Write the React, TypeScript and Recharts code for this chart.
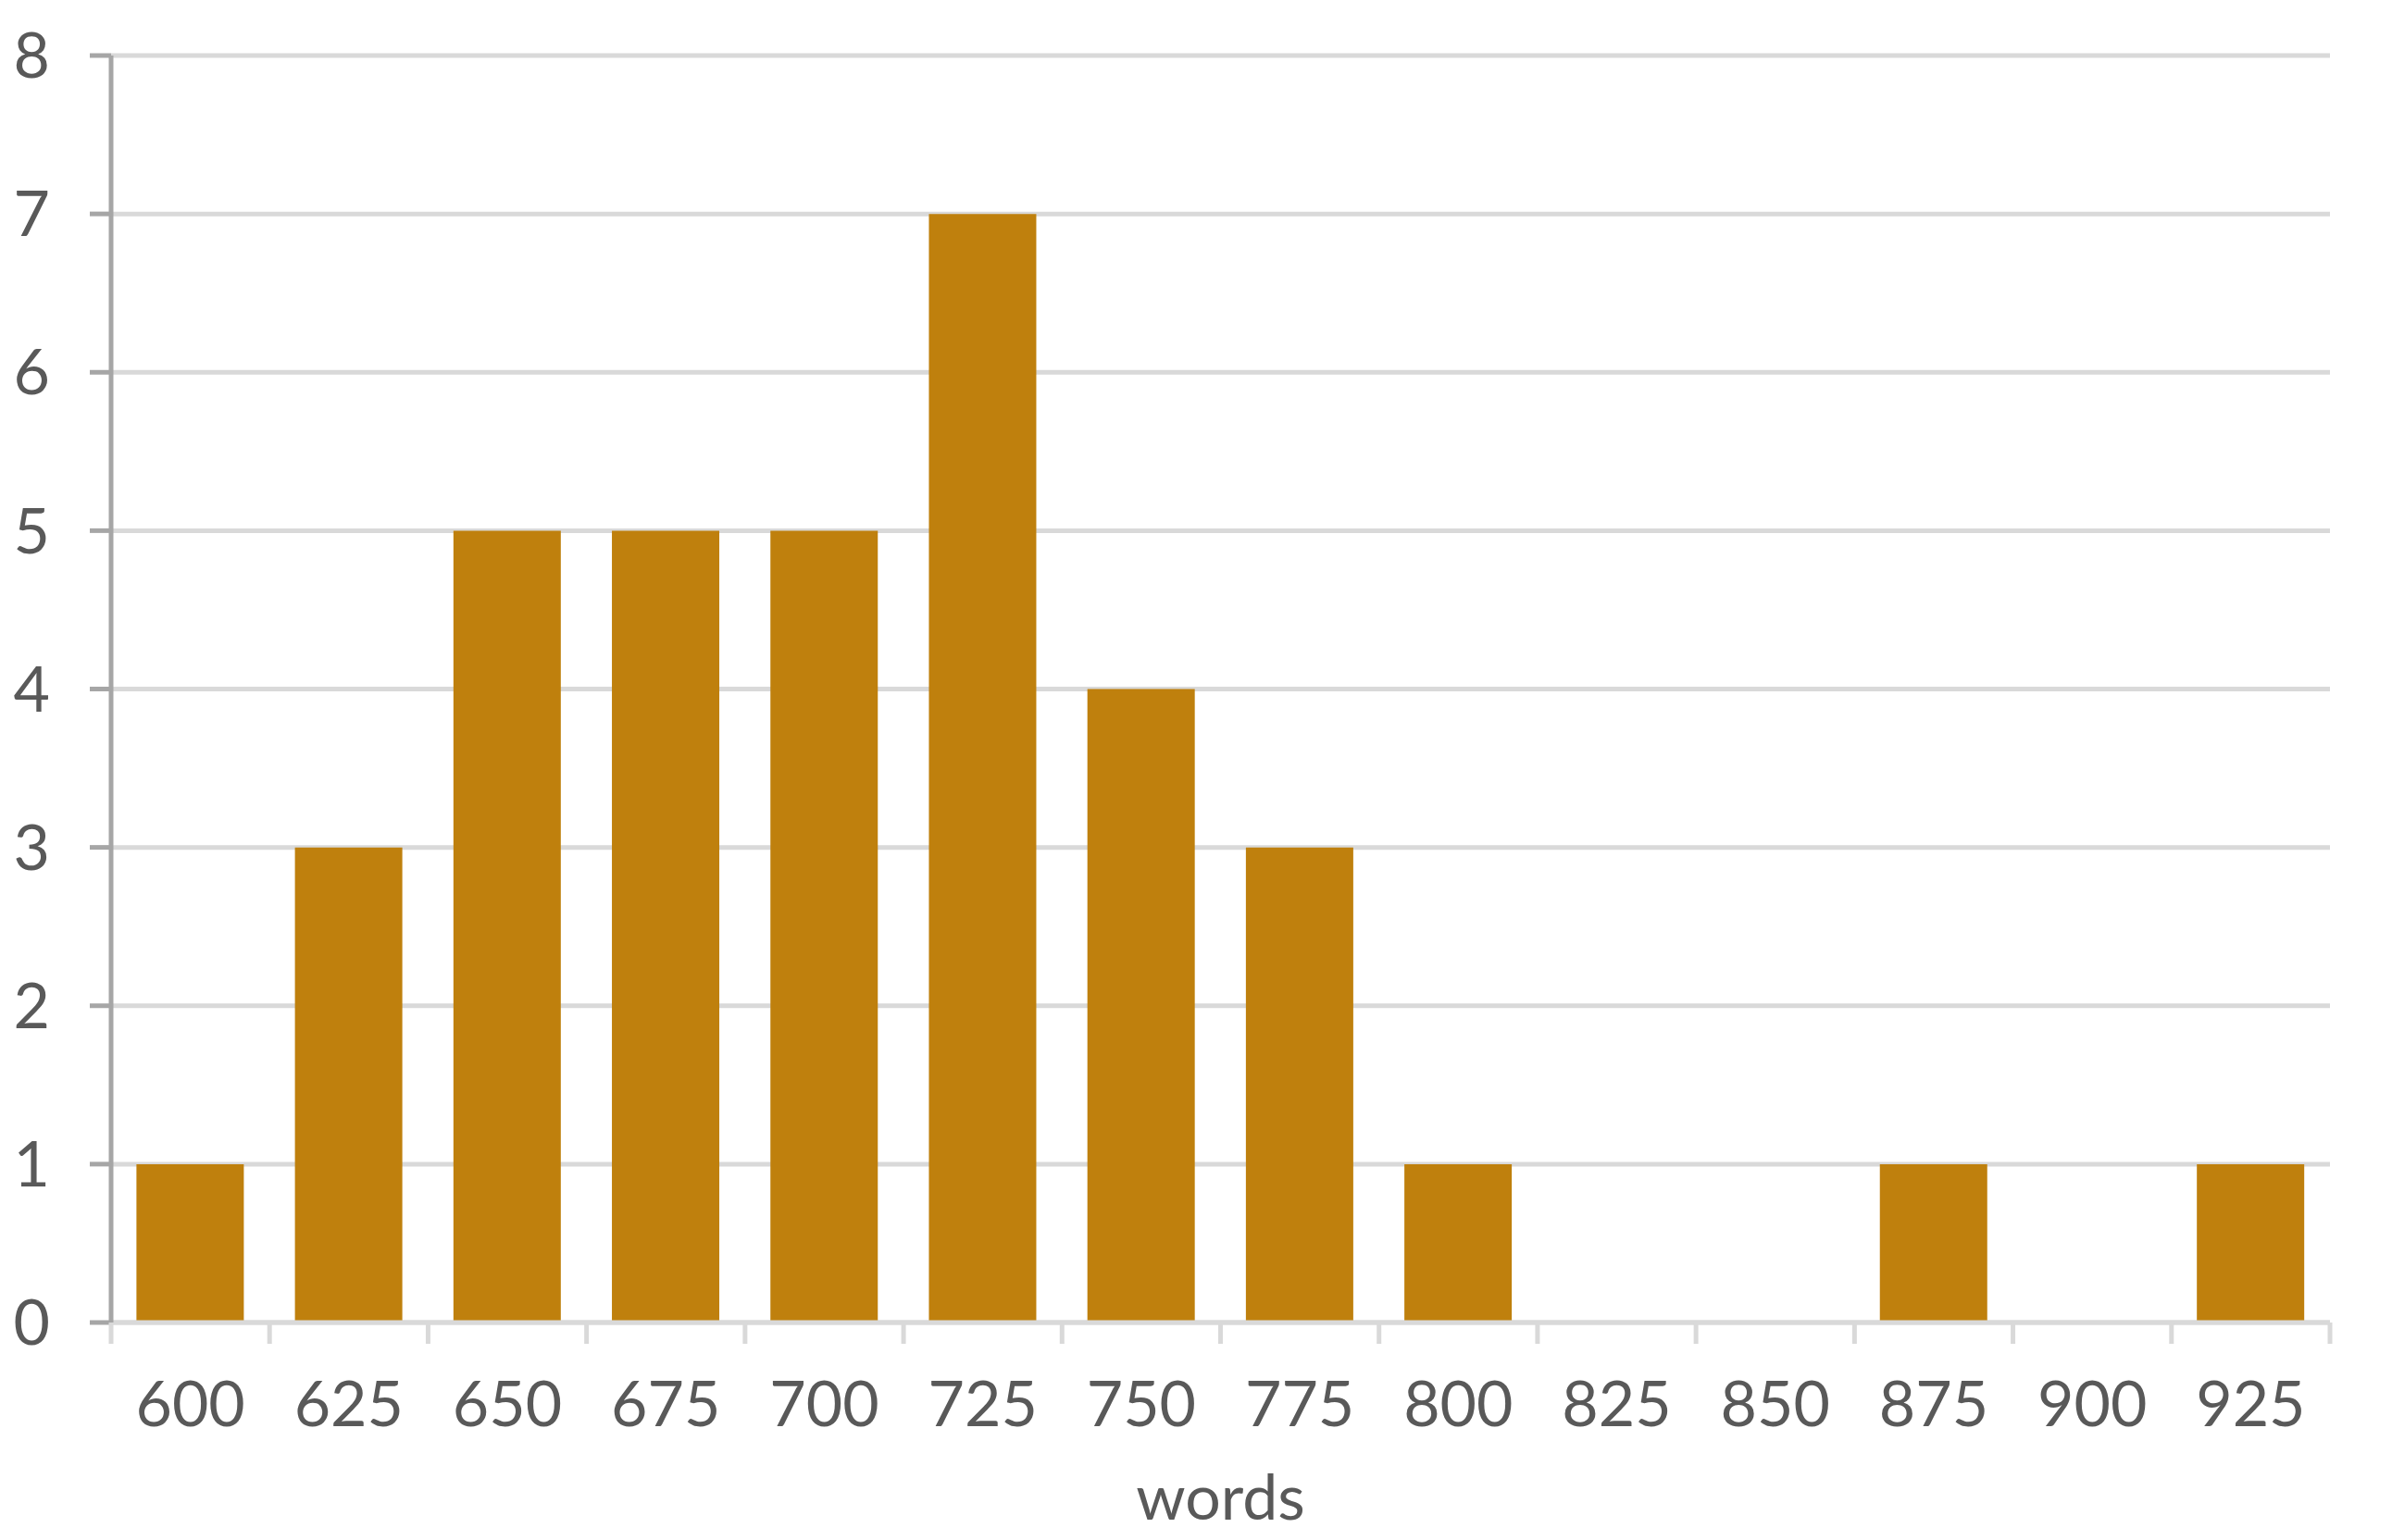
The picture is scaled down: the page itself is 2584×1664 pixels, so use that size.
import { BarChart, Bar, XAxis, YAxis, CartesianGrid } from "recharts";

// word-count bins and how many texts fell in each
const BINS = ["600", "625", "650", "675", "700", "725", "750", "775", "800", "825", "850", "875", "900", "925"];
const COUNTS = [1, 3, 5, 5, 5, 7, 4, 3, 1, 0, 0, 1, 0, 1];
const Y_TICKS = [0, 1, 2, 3, 4, 5, 6, 7, 8];

const data = BINS.map((bin, i) => ({ bin, count: COUNTS[i] }));

const TEXT = "#595959";
const GRID = "#d9d9d9";
const FONT = "Lato, 'Open Sans', sans-serif";
const TICK_LEN = 23;
const TICK_GAP = 41;

// category tick: label in the middle, short tick marks on the bin edges
function BinTick(props: any) {
  const { x, y, payload, index } = props;
  const half = payload?.offset ?? 0;
  const top = y - TICK_LEN - TICK_GAP;
  const bottom = top + TICK_LEN;
  return (
    <g>
      <line x1={x - half} x2={x - half} y1={top} y2={bottom} stroke={GRID} strokeWidth={5} />
      {index === BINS.length - 1 && (
        <line x1={x + half} x2={x + half} y1={top} y2={bottom} stroke={GRID} strokeWidth={5} />
      )}
      <text x={x} y={y} dy="0.71em" textAnchor="middle" fill={TEXT} fontSize={68} fontFamily={FONT}>
        {payload.value}
      </text>
    </g>
  );
}

export default function App() {
  return (
    <div style={{ position: "absolute", left: 0, top: 0, background: "#fff", fontFamily: FONT }}>
      <BarChart
        width={2584}
        height={1664}
        data={data}
        margin={{ top: 60, right: 67, bottom: 0, left: 0 }}
        barCategoryGap="16%"
      >
        <CartesianGrid vertical={false} stroke={GRID} strokeWidth={5} />
        <XAxis
          dataKey="bin"
          height={235}
          interval={0}
          tickLine={false}
          axisLine={{ stroke: GRID, strokeWidth: 5 }}
          tickSize={TICK_LEN}
          tickMargin={TICK_GAP}
          tick={<BinTick />}
          label={{ value: "words", position: "insideBottom", offset: 22, fill: TEXT, fontSize: 68, fontFamily: FONT }}
        />
        <YAxis
          width={120}
          domain={[0, 8]}
          ticks={Y_TICKS}
          interval={0}
          tickSize={23}
          tickMargin={43}
          tickLine={{ stroke: "#a6a6a6", strokeWidth: 5 }}
          axisLine={{ stroke: "#a6a6a6", strokeWidth: 5 }}
          tick={{ fill: TEXT, fontSize: 68, fontFamily: FONT }}
        />
        <Bar dataKey="count" fill="#bf800d" isAnimationActive={false} />
      </BarChart>
    </div>
  );
}
